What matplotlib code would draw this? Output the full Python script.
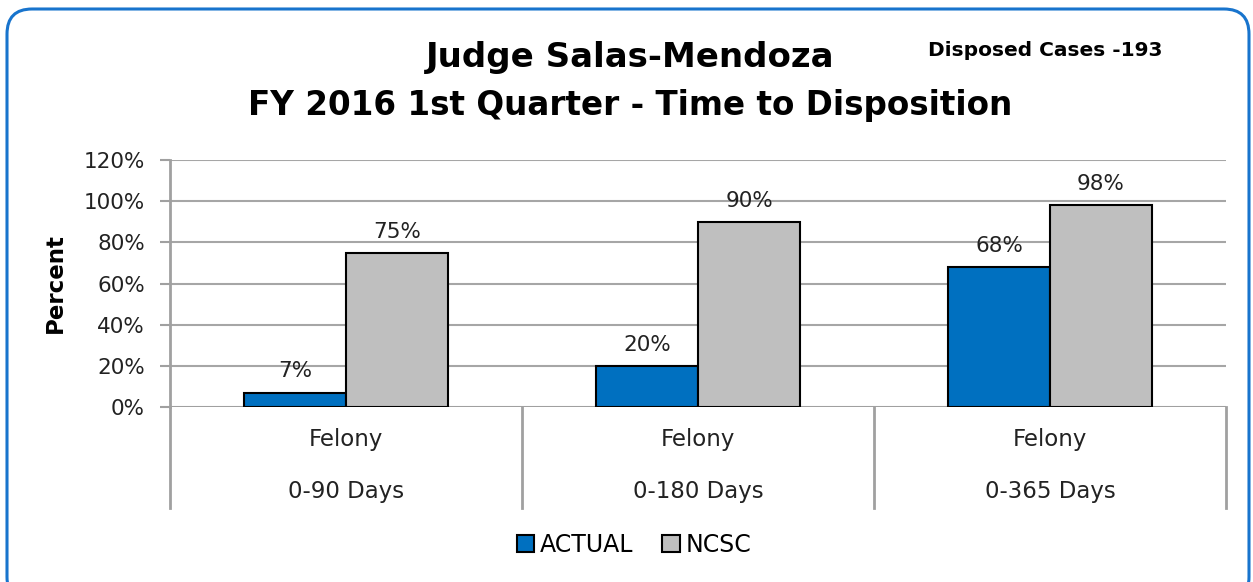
import matplotlib
matplotlib.use("Agg")
import matplotlib.pyplot as plt
from matplotlib.patches import FancyBboxPatch, Patch
import numpy as np

categories_top = ["Felony", "Felony", "Felony"]
categories_bottom = ["0-90 Days", "0-180 Days", "0-365 Days"]
actual = [7, 20, 68]
ncsc = [75, 90, 98]
series_names = ["ACTUAL", "NCSC"]
yticks = [0, 20, 40, 60, 80, 100, 120]

plt.rcParams['font.family'] = ['DejaVu Sans']

W, H = 1253, 582
fig = plt.figure(figsize=(W / 100, H / 100), dpi=100)

# rounded border
border = FancyBboxPatch((7 / W, -20 / H), (1242) / W, (H - 9 + 20) / H,
                        boxstyle="round,pad=0,rounding_size=0.02",
                        transform=fig.transFigure, fill=False,
                        edgecolor="#1874CD", linewidth=2.2, mutation_aspect=W / H)
fig.patches.append(border)

ax_l, ax_r = 170 / W, 1226 / W
ax_b, ax_t = 1 - 407 / H, 1 - 160 / H
ax = fig.add_axes([ax_l, ax_b, ax_r - ax_l, ax_t - ax_b])

x = np.arange(len(actual))
bw = 0.29
b1 = ax.bar(x - bw / 2, actual, bw, color="#0070C0", edgecolor="black", linewidth=1.5, zorder=3)
b2 = ax.bar(x + bw / 2, ncsc, bw, color="#BFBFBF", edgecolor="black", linewidth=1.5, zorder=3)

for bars, vals in ((b1, actual), (b2, ncsc)):
    for rect, v in zip(bars, vals):
        ax.annotate(f"{v}%", (rect.get_x() + rect.get_width() / 2, v),
                    xytext=(0, 8), textcoords="offset points",
                    ha="center", va="bottom", fontsize=15.5, color="#222222")

ax.set_xlim(-0.5, 2.5)
ax.set_ylim(0, 120)
ax.set_yticks(yticks)
ax.set_yticklabels([f"{t}%" for t in yticks], fontsize=15.5, color="#222222")
ax.yaxis.grid(True, color="#A6A6A6", linewidth=1.5, zorder=0)
ax.set_axisbelow(True)
for s in ("top", "right", "bottom"):
    ax.spines[s].set_visible(False)
ax.spines["left"].set_color("#A0A0A0")
ax.spines["left"].set_linewidth(2)
ax.tick_params(axis="y", length=7, width=1.5, color="#A0A0A0", pad=11)
ax.set_xticks([])
ax.set_ylabel("Percent", fontsize=16.5, fontweight="bold", labelpad=12)

# category divider lines below axis
for xb in [-0.5, 0.5, 1.5, 2.5]:
    ax.plot([xb, xb], [0, -49], color="#A0A0A0", linewidth=2, clip_on=False, zorder=1)
ax.axhline(0, color="#A0A0A0", linewidth=2, zorder=2)

for i, (t, b) in enumerate(zip(categories_top, categories_bottom)):
    ax.text(i, -16, t, ha="center", va="center", fontsize=16.5, color="#222222")
    ax.text(i, -41, b, ha="center", va="center", fontsize=16.5, color="#222222")

fig.text(630 / W, 1 - 57 / H, "Judge Salas-Mendoza", ha="center", va="center",
         fontsize=24.5, fontweight="bold")
fig.text(630 / W, 1 - 105 / H, "FY 2016 1st Quarter - Time to Disposition", ha="center",
         va="center", fontsize=23.5, fontweight="bold")
fig.text(1045 / W, 1 - 50 / H, "Disposed Cases -193", ha="center", va="center",
         fontsize=14.5, fontweight="bold")

handles = [Patch(facecolor="#0070C0", edgecolor="black", linewidth=1.5),
           Patch(facecolor="#BFBFBF", edgecolor="black", linewidth=1.5)]
fig.legend(handles, series_names, loc="center", bbox_to_anchor=(634 / W, 1 - 545 / H),
           ncol=2, frameon=False, fontsize=17, handlelength=0.75, handleheight=0.75,
           handletextpad=0.25, columnspacing=1.2)

fig.savefig("out.png", dpi=100)
